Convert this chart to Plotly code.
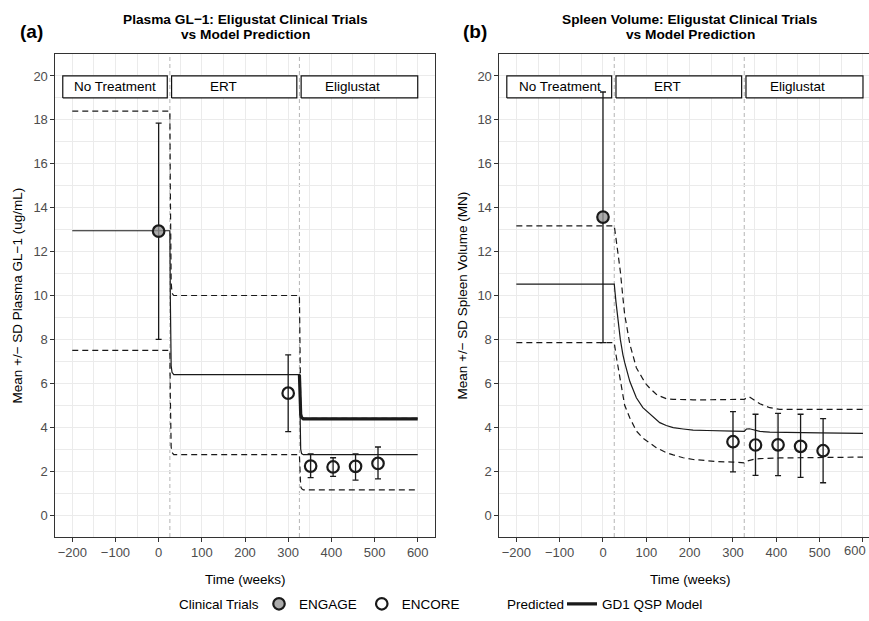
import plotly.graph_objects as go

W, H = 869, 621
FONT = "Liberation Sans, Arial, sans-serif"

# ---------------- data ----------------
x_ticks = [-200, -100, 0, 100, 200, 300, 400, 500, 600]
x_ticklabels = ["−200", "−100", "0", "100", "200", "300", "400", "500", "600"]
x_minor = [-150, -50, 50, 150, 250, 350, 450, 550]
y_ticks = [0, 2, 4, 6, 8, 10, 12, 14, 16, 18, 20]
y_ticklabels = [str(v) for v in y_ticks]
y_minor = [1, 3, 5, 7, 9, 11, 13, 15, 17, 19]

phase_names = ["No Treatment", "ERT", "Eliglustat"]
phase_start = [-222, 30, 330]
phase_end = [20, 320, 600]
phase_label_x = [-100, 150, 450]
phase_box_lo = 19.0
phase_box_hi = 20.0
treatment_switch = [26, 326]

legend_titles = ["Clinical Trials", "Predicted"]

# Panel (a) Plasma GL-1 observed
a_engage_t = [0]
a_engage_mean = [12.93]
a_engage_lo = [8.0]
a_engage_hi = [17.85]
a_encore_t = [300, 352, 404, 456, 508]
a_encore_mean = [5.55, 2.23, 2.19, 2.22, 2.35]
a_encore_lo = [3.8, 1.70, 1.76, 1.59, 1.65]
a_encore_hi = [7.3, 2.79, 2.61, 2.79, 3.10]

# Panel (a) model prediction
a_t = [-200, 26, 27, 28, 29, 31, 35, 326, 327, 328, 329, 331, 335, 600]
a_mid = [12.95, 12.95, 10.0, 7.6, 6.8, 6.5, 6.4, 6.4, 5.0, 3.6, 3.0, 2.8, 2.75, 2.75]
a_upper = [18.4, 18.4, 15.0, 12.0, 10.6, 10.1, 10.0, 10.0, 8.0, 6.0, 5.0, 4.5, 4.4, 4.4]
a_lower = [7.5, 7.5, 5.5, 3.8, 3.1, 2.85, 2.75, 2.75, 2.0, 1.5, 1.3, 1.2, 1.15, 1.15]
a_model_t = [326, 327, 328, 329, 331, 335, 600]
a_model = [6.4, 5.6, 4.9, 4.6, 4.45, 4.38, 4.38]

# Panel (b) Spleen volume observed
b_engage_t = [0]
b_engage_mean = [13.57]
b_engage_lo = [7.85]
b_engage_hi = [19.27]
b_encore_t = [300, 352, 404, 456, 508]
b_encore_mean = [3.34, 3.19, 3.20, 3.13, 2.93]
b_encore_lo = [1.97, 1.81, 1.80, 1.72, 1.47]
b_encore_hi = [4.71, 4.59, 4.63, 4.59, 4.39]

# Panel (b) model prediction
b_t = [-200, 26, 30, 35, 40, 46, 50, 62, 77, 92, 100, 108, 123, 131, 146, 162,
       185, 208, 240, 262, 300, 326, 331, 338, 350, 362, 385, 408, 450, 500, 600]
b_mid = [10.52, 10.52, 9.7, 8.8, 8.0, 7.3, 6.95, 6.08, 5.34, 4.89, 4.75, 4.62, 4.33,
         4.21, 4.08, 3.98, 3.92, 3.87, 3.85, 3.83, 3.82, 3.81, 3.92, 3.93, 3.86, 3.81,
         3.78, 3.77, 3.75, 3.74, 3.72]
b_upper = [13.17, 13.17, 12.6, 11.9, 11.1, 9.9, 9.14, 7.78, 6.71, 6.2, 5.95, 5.78, 5.50,
           5.42, 5.30, 5.27, 5.25, 5.25, 5.25, 5.26, 5.27, 5.27, 5.33, 5.38, 5.22, 5.07,
           4.89, 4.81, 4.81, 4.81, 4.81]
b_lower = [7.85, 7.85, 7.3, 6.7, 6.1, 5.34, 5.0, 4.42, 3.83, 3.5, 3.37, 3.28, 3.07,
           2.98, 2.84, 2.74, 2.61, 2.53, 2.46, 2.44, 2.41, 2.38, 2.45, 2.50, 2.55, 2.57,
           2.59, 2.60, 2.61, 2.62, 2.64]

# ---------------- figure ----------------
fig = go.Figure()
INK = "#1A1A1A"
DASH = "6px,4px"


def err(mean, lo, hi):
    return dict(type="data", symmetric=False,
                array=[h - m for m, h in zip(mean, hi)],
                arrayminus=[m - l for m, l in zip(mean, lo)],
                color=INK, thickness=1.3, width=3)


def add_panel(xa, ya, t, mid, upper, lower, eng, enc, model=None, first=False):
    # phase label boxes (white filled, above gridlines, below observations)
    for x0, x1 in zip(phase_start, phase_end):
        fig.add_trace(go.Scatter(x=[x0, x1, x1, x0, x0],
                                 y=[phase_box_lo, phase_box_lo, phase_box_hi, phase_box_hi, phase_box_lo],
                                 mode="lines", fill="toself", fillcolor="white",
                                 line=dict(color="#111111", width=1.2),
                                 xaxis=xa, yaxis=ya, showlegend=False, hoverinfo="skip"))
    fig.add_trace(go.Scatter(x=t, y=upper, mode="lines", xaxis=xa, yaxis=ya,
                             line=dict(color=INK, width=1.2, dash=DASH), showlegend=False,
                             hoverinfo="skip"))
    fig.add_trace(go.Scatter(x=t, y=lower, mode="lines", xaxis=xa, yaxis=ya,
                             line=dict(color=INK, width=1.2, dash=DASH), showlegend=False,
                             hoverinfo="skip"))
    fig.add_trace(go.Scatter(x=t, y=mid, mode="lines", xaxis=xa, yaxis=ya,
                             line=dict(color=INK, width=1.2), showlegend=False,
                             hoverinfo="skip"))
    if model is not None:
        fig.add_trace(go.Scatter(x=model[0], y=model[1], mode="lines", xaxis=xa, yaxis=ya,
                                 line=dict(color=INK, width=3.2), name="GD1 QSP Model",
                                 legend="legend2", showlegend=first))
    et, em, el, eh = eng
    fig.add_trace(go.Scatter(x=et, y=em, mode="markers", xaxis=xa, yaxis=ya,
                             name="ENGAGE", legend="legend", showlegend=first,
                             error_y=err(em, el, eh),
                             marker=dict(symbol="circle", size=11.5,
                                         color="rgba(150,150,150,0.8)",
                                         line=dict(color=INK, width=2.2))))
    nt, nm, nl, nh = enc
    fig.add_trace(go.Scatter(x=nt, y=nm, mode="markers", xaxis=xa, yaxis=ya,
                             name="ENCORE", legend="legend", showlegend=first,
                             error_y=err(nm, nl, nh),
                             marker=dict(symbol="circle-open", size=11.5, color=INK,
                                         line=dict(color=INK, width=2.2))))


add_panel("x", "y", a_t, a_mid, a_upper, a_lower,
          (a_engage_t, a_engage_mean, a_engage_lo, a_engage_hi),
          (a_encore_t, a_encore_mean, a_encore_lo, a_encore_hi),
          model=(a_model_t, a_model), first=True)
add_panel("x2", "y2", b_t, b_mid, b_upper, b_lower,
          (b_engage_t, b_engage_mean, b_engage_lo, b_engage_hi),
          (b_encore_t, b_encore_mean, b_encore_lo, b_encore_hi))


def py(p):
    return 1 - p / H


def px(p):
    return p / W


shapes = []
annotations = []
for xr, yr in [("x", "y"), ("x2", "y2")]:
    for s in treatment_switch:
        shapes.append(dict(type="line", xref=xr, yref=yr + " domain", x0=s, x1=s, y0=0, y1=1,
                           line=dict(color="#ABABAB", width=0.9, dash="4px,3px"),
                           layer="below"))
    for name, lx in zip(phase_names, phase_label_x):
        annotations.append(dict(xref=xr, yref=yr, x=lx, y=(phase_box_lo + phase_box_hi) / 2,
                                text=name, showarrow=False,
                                font=dict(family=FONT, size=13.5, color="black")))

# right-most tick label of panel (b), kept inside the page edge
annotations.append(dict(xref="paper", yref="paper", x=px(868), y=py(550),
                        xanchor="right", yanchor="middle", showarrow=False,
                        text=x_ticklabels[-1],
                        font=dict(family=FONT, size=13, color="#4D4D4D")))

A_L, A_R = 55, 435
B_L, B_R = 499, 869
P_T, P_B = 54, 537

texts = [
    ("Plasma GL−1: Eligustat Clinical Trials", (A_L + A_R) / 2, 19, 13.7, True),
    ("vs Model Prediction", (A_L + A_R) / 2, 34, 13.7, True),
    ("Spleen Volume: Eligustat Clinical Trials", 690, 19, 13.7, True),
    ("vs Model Prediction", 690, 34, 13.7, True),
    ("(a)", 31.5, 31, 19, True),
    ("(b)", 475, 31, 19, True),
    ("Time (weeks)", (A_L + A_R) / 2, 579, 13.5, False),
    ("Time (weeks)", 690, 579, 13.5, False),
]
for txt, xx, yy, sz, bold in texts:
    annotations.append(dict(xref="paper", yref="paper", x=px(xx), y=py(yy),
                            xanchor="center", yanchor="middle", showarrow=False,
                            text=f"<b>{txt}</b>" if bold else txt,
                            font=dict(family=FONT, size=sz, color="black")))
for txt, xx in zip(legend_titles, [177, 505]):
    annotations.append(dict(xref="paper", yref="paper", x=px(xx), y=py(604),
                            xanchor="left", yanchor="middle", showarrow=False, text=txt,
                            font=dict(family=FONT, size=13.5, color="black")))
annotations.append(dict(xref="paper", yref="paper", x=px(17), y=py((P_T + P_B) / 2),
                        textangle=-90, showarrow=False, xanchor="center", yanchor="middle",
                        text="Mean +/− SD Plasma GL−1 (ug/mL)",
                        font=dict(family=FONT, size=13.5, color="black")))
annotations.append(dict(xref="paper", yref="paper", x=px(462), y=py((P_T + P_B) / 2),
                        textangle=-90, showarrow=False, xanchor="center", yanchor="middle",
                        text="Mean +/− SD Spleen Volume (MN)",
                        font=dict(family=FONT, size=13.5, color="black")))

axis_common = dict(showgrid=True, gridcolor="#EBEBEB", gridwidth=1.1, zeroline=False,
                   showline=True, linecolor="#333333", linewidth=1.1,
                   ticks="outside", ticklen=3.5, tickcolor="#333333", tickwidth=1,
                   tickfont=dict(family=FONT, size=13, color="#4D4D4D"))

xa = dict(axis_common, tickmode="array", tickvals=x_ticks, ticktext=x_ticklabels,
          minor=dict(tickmode="array", tickvals=x_minor, showgrid=True, gridcolor="#EBEBEB",
                     gridwidth=0.6, ticks=""))
ya = dict(axis_common, tickmode="array", tickvals=y_ticks, ticktext=y_ticklabels,
          range=[-1, 21],
          minor=dict(tickmode="array", tickvals=y_minor, showgrid=True, gridcolor="#EBEBEB",
                     gridwidth=0.6, ticks=""))

fig.update_layout(
    width=W, height=H, margin=dict(l=0, r=0, t=0, b=0),
    paper_bgcolor="white", plot_bgcolor="white",
    font=dict(family=FONT, color="black"),
    xaxis=dict(xa, domain=[px(A_L), px(A_R)], range=[-240, 640], mirror=True, anchor="y"),
    yaxis=dict(ya, domain=[py(P_B), py(P_T)], mirror=True, anchor="x"),
    xaxis2=dict(xa, domain=[px(B_L), 1], range=[-240, 613.9], mirror=True, anchor="y2"),
    yaxis2=dict(ya, domain=[py(P_B), py(P_T)], mirror=False, anchor="x2"),
    shapes=shapes, annotations=annotations,
    legend=dict(orientation="h", x=px(259), xanchor="left", y=py(604), yanchor="middle",
                font=dict(family=FONT, size=13.5, color="black"),
                bgcolor="rgba(0,0,0,0)", itemwidth=30, tracegroupgap=0),
    legend2=dict(orientation="h", x=px(562), xanchor="left", y=py(604), yanchor="middle",
                 font=dict(family=FONT, size=13.5, color="black"),
                 bgcolor="rgba(0,0,0,0)", itemwidth=30),
    showlegend=True,
)

fig.write_html("out.html", config={"displayModeBar": False},
               post_script="document.body.style.margin='0';document.body.style.padding='0';")
